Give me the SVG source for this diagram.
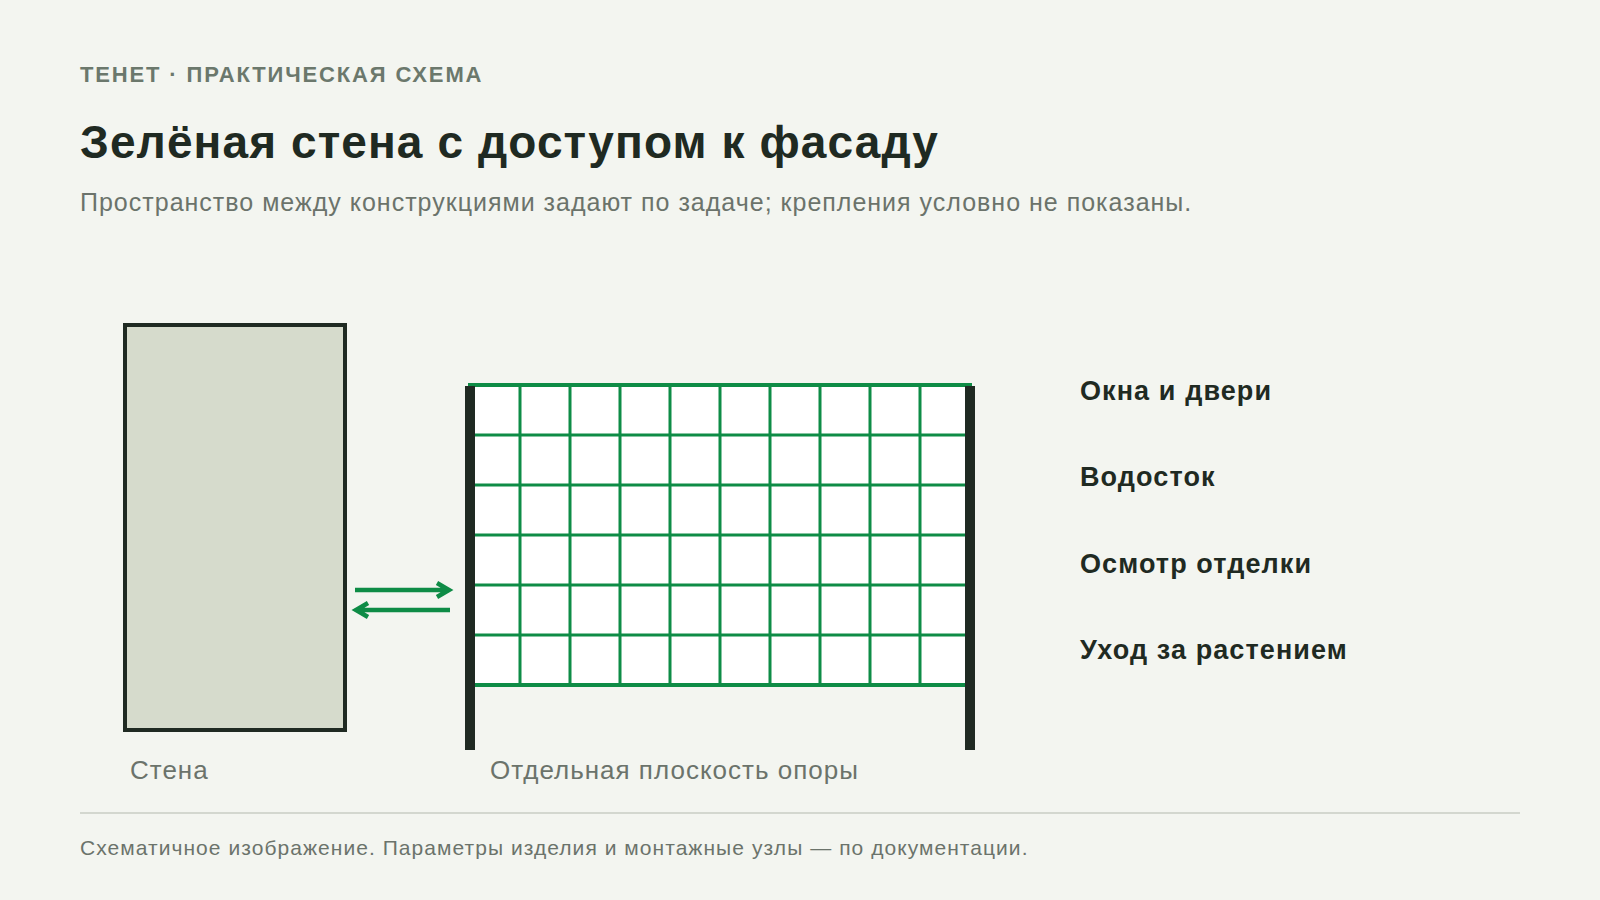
<svg xmlns="http://www.w3.org/2000/svg" width="1600" height="900" viewBox="0 0 1600 900">
<style>
.sans{font-family:"Liberation Sans",Arial,sans-serif}
.kicker{font-size:22px;font-weight:700;fill:#6b786c;letter-spacing:1.85px}
.title{font-size:46px;font-weight:700;fill:#1f2a22;letter-spacing:1.1px}
.sub{font-size:25px;fill:#6b736b;letter-spacing:1px}
.cap{font-size:26px;fill:#6b736b;letter-spacing:1px}
.item{font-size:27px;font-weight:700;fill:#1f2a22;letter-spacing:1.1px}
.foot{font-size:21px;fill:#6b736b;letter-spacing:1.05px}
.grid{stroke:#0e8c46;stroke-width:3;fill:none}
.arrow{stroke:#0e8c46;stroke-width:4.5;fill:none;stroke-linecap:butt}
</style>
<rect width="1600" height="900" fill="#f3f5f0"/>
<text class="sans kicker" x="80" y="82">ТЕНЕТ · ПРАКТИЧЕСКАЯ СХЕМА</text>
<text class="sans title" x="80" y="158">Зелёная стена с доступом к фасаду</text>
<text class="sans sub" x="80" y="211">Пространство между конструкциями задают по задаче; крепления условно не показаны.</text>

<g id="wall">
<rect x="125" y="325" width="220" height="405" fill="#d6dbcc" stroke="#1f2a22" stroke-width="4"/>
<text class="sans cap" x="130" y="779">Стена</text>
</g>

<g id="support">
<rect x="470" y="385" width="500" height="300" fill="#ffffff"/>
<path class="grid" d="M520 385V685M570 385V685M620 385V685M670 385V685M720 385V685M770 385V685M820 385V685M870 385V685M920 385V685M470 435H970M470 485H970M470 535H970M470 585H970M470 635H970"/>
<path d="M468 385H972M468 685H970" stroke="#0e8c46" stroke-width="4" fill="none"/>
<rect x="465" y="386" width="10" height="364" fill="#1f2a22"/>
<rect x="965" y="386" width="10" height="364" fill="#1f2a22"/>
<text class="sans cap" x="490" y="779">Отдельная плоскость опоры</text>
</g>

<g id="connectors">
<path class="arrow" d="M355 590H449M437 583L449 590L437 597"/>
<path class="arrow" d="M450 610H356M368 603L356 610L368 617"/>
</g>

<g id="items">
<text class="sans item" x="1080" y="400">Окна и двери</text>
<text class="sans item" x="1080" y="486">Водосток</text>
<text class="sans item" x="1080" y="573">Осмотр отделки</text>
<text class="sans item" x="1080" y="659">Уход за растением</text>
</g>

<line x1="80" y1="813" x2="1520" y2="813" stroke="#d3d7cf" stroke-width="2"/>
<text class="sans foot" x="80" y="855">Схематичное изображение. Параметры изделия и монтажные узлы — по документации.</text>
</svg>
